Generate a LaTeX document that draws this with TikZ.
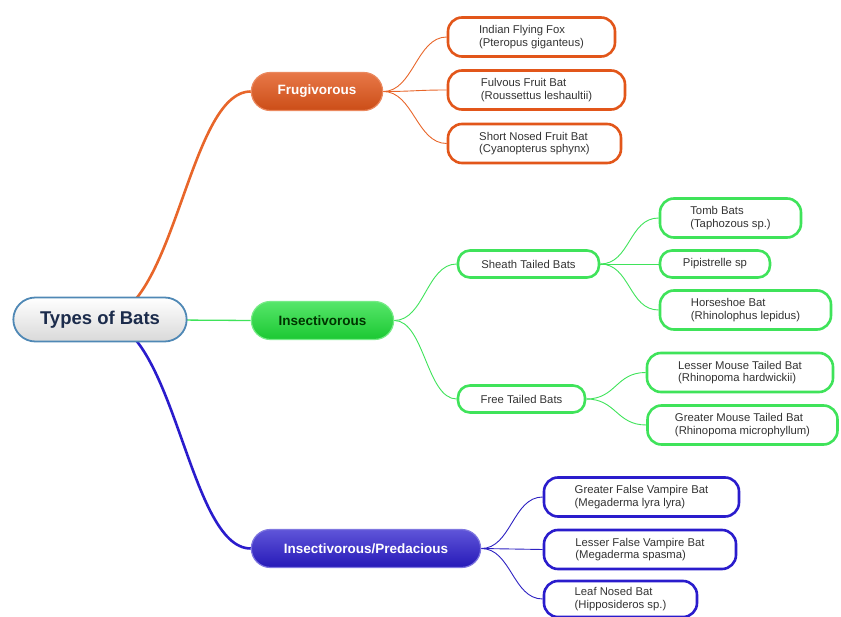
\documentclass[tikz,border=0pt]{standalone}
\usepackage{fontspec}
\setmainfont{Liberation Sans}
\usetikzlibrary{positioning,shapes.misc,backgrounds}
\definecolor{rootline}{HTML}{4F88B5}
\definecolor{rootink}{HTML}{1B2B4B}
\definecolor{frug}{HTML}{E2561A}
\definecolor{frugline}{HTML}{E8662A}
\definecolor{insect}{HTML}{1EDE38}
\definecolor{insectline}{HTML}{3FE35A}
\definecolor{pred}{HTML}{2A1CCC}
\definecolor{predline}{HTML}{2E22C2}
\definecolor{leafink}{HTML}{333333}
\tikzset{
  root/.style={rounded rectangle, draw=rootline, line width=1.8pt,
    top color=white, bottom color=black!15, text=rootink,
    font=\fontsize{18.5}{22}\selectfont\bfseries, minimum height=44pt},
  group/.style={rounded rectangle, line width=1.2pt, minimum height=38pt,
    font=\fontsize{13.5}{16}\selectfont\bfseries},
  leaf/.style={rectangle, rounded corners=14pt, fill=white, line width=2.6pt,
    align=left, text=leafink, font=\fontsize{11.3}{12.5}\selectfont,
    minimum height=39pt},
  small/.style={leaf, rounded corners=12pt, minimum height=27pt},
  limb/.style={line width=2.6pt},
  twig/.style={line width=0.9pt}
}
\begin{document}
\begin{tikzpicture}[x=1pt,y=-1pt]
  \useasboundingbox (0,0) rectangle (841,617);
  % centre
  \node[root, minimum width=180pt] (bats) at (100,319.5) {Types of Bats};
  % groups
  \node[group, minimum width=138pt, draw=frug!70!white, top color=frug!80!white, middle color=frug, bottom color=frug!90!black, text=white] (fru) at (317,91.5) {Frugivorous};
  \node[group, minimum width=149pt, draw=insect!60!white, top color=insect!75!white, middle color=insect, bottom color=insect!90!black, text=black!80!green] (ins) at (322.5,320.5) {Insectivorous};
  \node[group, minimum width=236pt, draw=pred!60!white, top color=pred!75!white, middle color=pred, bottom color=pred!90!black, text=white] (pre) at (366,548.5) {Insectivorous/Predacious};
  % frugivorous leaves
  \node[leaf, draw=frug, minimum width=167pt] (fox) at (531.5,37) {Indian Flying Fox\\(Pteropus giganteus)};
  \node[leaf, draw=frug, minimum width=177pt] (fulv) at (536.5,90) {Fulvous Fruit Bat\\(Roussettus leshaultii)};
  \node[leaf, draw=frug, minimum width=173pt] (snf) at (534.5,143.5) {Short Nosed Fruit Bat\\(Cyanopterus sphynx)};
  % insectivorous leaves
  \node[small, draw=insectline, minimum width=141pt] (sheath) at (528.5,264) {Sheath Tailed Bats};
  \node[small, draw=insectline, minimum width=127pt] (free) at (521.5,399) {Free Tailed Bats};
  \node[leaf, draw=insectline, minimum width=141pt] (tomb) at (730.5,218) {Tomb Bats\\(Taphozous sp.)};
  \node[small, draw=insectline, minimum width=110pt] (pip) at (715,264) {Pipistrelle sp};
  \node[leaf, draw=insectline, minimum width=171pt] (horse) at (745.5,310) {Horseshoe Bat\\(Rhinolophus lepidus)};
  \node[leaf, draw=insectline, minimum width=186pt] (lmt) at (740,372.5) {Lesser Mouse Tailed Bat\\(Rhinopoma hardwickii)};
  \node[leaf, draw=insectline, minimum width=190pt] (gmt) at (742.5,425) {Greater Mouse Tailed Bat\\(Rhinopoma microphyllum)};
  % predacious leaves
  \node[leaf, draw=pred, minimum width=195pt] (gfv) at (641.5,497) {Greater False Vampire Bat\\(Megaderma lyra lyra)};
  \node[leaf, draw=pred, minimum width=192pt] (lfv) at (640,549.5) {Lesser False Vampire Bat\\(Megaderma spasma)};
  \node[leaf, draw=pred, minimum width=153pt, minimum height=36pt] (leafn) at (620.5,599) {Leaf Nosed Bat\\(Hipposideros sp.)};
  \begin{scope}[on background layer]
    \draw[limb, frugline] (bats.center) .. controls +(75,0) and +(-63,0) .. (fru.west);
    \draw[limb, pred] (bats.center) .. controls +(75,0) and +(-63,0) .. (pre.west);
    \draw[line width=1.3pt, insectline] (bats.center) -- (ins.west);
    \foreach \n in {fox,fulv,snf}
      \draw[twig, frugline] (fru.east) .. controls +(30,0) and +(-30,0) .. (\n.west);
    \foreach \n in {sheath,free}
      \draw[twig, insectline] (ins.east) .. controls +(30,0) and +(-30,0) .. (\n.west);
    \foreach \n in {tomb,pip,horse}
      \draw[twig, insectline] (sheath.east) .. controls +(30,0) and +(-30,0) .. (\n.west);
    \foreach \n in {lmt,gmt}
      \draw[twig, insectline] (free.east) .. controls +(30,0) and +(-30,0) .. (\n.west);
    \foreach \n in {gfv,lfv,leafn}
      \draw[twig, predline] (pre.east) .. controls +(30,0) and +(-30,0) .. (\n.west);
  \end{scope}
\end{tikzpicture}
\end{document}
